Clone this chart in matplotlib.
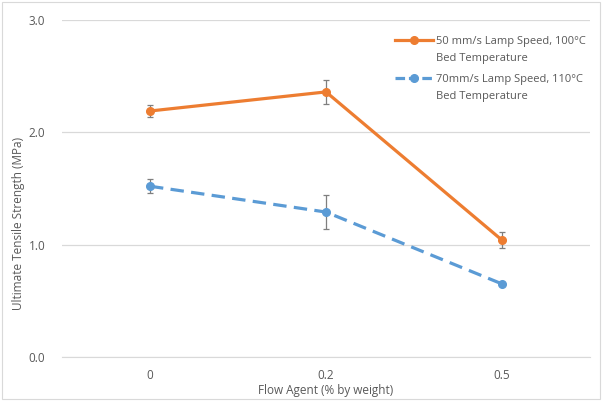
import matplotlib
matplotlib.use("Agg")
import matplotlib.pyplot as plt
from matplotlib.patches import Rectangle
from matplotlib.lines import Line2D

plt.rcParams['font.family'] = ['Open Sans', 'DejaVu Sans']

categories = ["0", "0.2", "0.5"]
series_a_label = ["50 mm/s Lamp Speed, 100°C", "Bed Temperature"]
series_a = [2.19, 2.36, 1.04]
series_a_err = [0.05, 0.105, 0.07]
series_b_label = ["70mm/s Lamp Speed, 110°C", "Bed Temperature"]
series_b = [1.52, 1.29, 0.65]
series_b_err = [0.06, 0.155, 0.0]
y_ticks = [0.0, 1.0, 2.0, 3.0]

text_color = "#595959"
grid_color = "#D9D9D9"
orange = "#ED7D31"
blue = "#5B9BD5"
err_color = "#7F7F7F"
DASHES = (4.2, 2.3)
LW = 2.3

W, H = 602, 401
fig = plt.figure(figsize=(W / 100, H / 100), dpi=100)
fig.patches.append(Rectangle((0.003, 0.004), 0.994, 0.99, transform=fig.transFigure,
                             fill=False, edgecolor="#D9D9D9", linewidth=0.8))
ax = fig.add_axes([0.103, 0.110, 0.877, 0.840])

x = list(range(len(categories)))

ax.errorbar(x, series_a, yerr=series_a_err, fmt="none", ecolor=err_color,
            elinewidth=0.9, capsize=2.5, capthick=0.9, zorder=2)
ax.errorbar(x, series_b, yerr=series_b_err, fmt="none", ecolor=err_color,
            elinewidth=0.9, capsize=2.5, capthick=0.9, zorder=2)

ax.plot(x, series_a, color=orange, linewidth=LW, marker="o", markersize=5.5, zorder=3)
line_b, = ax.plot(x, series_b, color=blue, linewidth=LW, marker="o", markersize=5.5, zorder=3)
line_b.set_dashes(DASHES)

ax.set_xlim(-0.5, 2.5)
ax.set_ylim(0, 3.0)
ax.set_xticks(x)
ax.set_xticklabels(categories)
ax.set_yticks(y_ticks)
ax.set_yticklabels([f"{v:.1f}" for v in y_ticks])
ax.yaxis.grid(True, color=grid_color, linewidth=0.9)
ax.set_axisbelow(True)
for s in ax.spines.values():
    s.set_visible(False)
ax.spines["bottom"].set_visible(True)
ax.spines["bottom"].set_color(grid_color)
ax.tick_params(axis="both", length=0, colors=text_color, labelsize=8.5)
ax.tick_params(axis="x", pad=9)
ax.tick_params(axis="y", pad=12)

ax.set_xlabel("Flow Agent (% by weight)", color=text_color, fontsize=8.5, labelpad=1)
fig.text(0.030, 1 - 223 / H, "Ultimate Tensile Strength (MPa)", rotation=90,
         ha="center", va="center", color=text_color, fontsize=8.5)

# legend: handle segments and two-line labels, laid out in figure pixels
def fx(px):
    return px / W

def fy(py):
    return 1 - py / H

legend_entries = [
    (series_a_label, orange, None, 40),
    (series_b_label, blue, (3.0, 1.2), 78),
]
for lines, color, dashes, ypx in legend_entries:
    seg = Line2D([fx(395), fx(433)], [fy(ypx), fy(ypx)], transform=fig.transFigure,
                 color=color, linewidth=LW)
    if dashes is not None:
        seg.set_dashes(dashes)
    fig.add_artist(seg)
    fig.add_artist(Line2D([fx(414)], [fy(ypx)], transform=fig.transFigure,
                          color=color, marker="o", markersize=5.5, linestyle="none"))
    for i, txt in enumerate(lines):
        fig.text(fx(436), fy(ypx + 17 * i), txt, ha="left", va="center_baseline",
                 color=text_color, fontsize=8)

fig.savefig("out.png", dpi=100)
